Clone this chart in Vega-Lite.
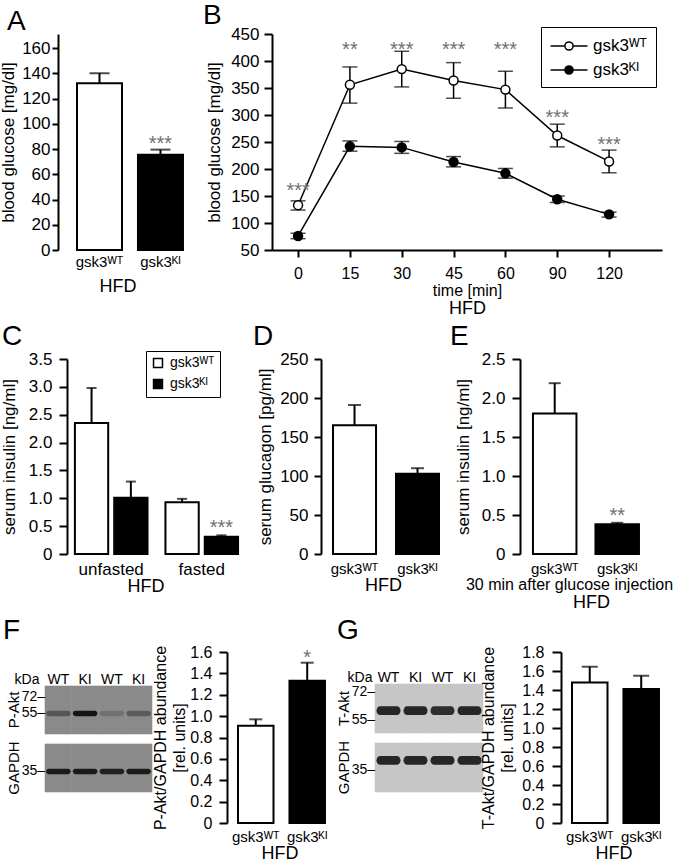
{
  "$schema": "https://vega.github.io/schema/vega-lite/v6.json",
  "padding": {"left": -1, "top": 2, "right": 0, "bottom": 0},
  "spacing": 6,
  "resolve": {"scale": {"fill": "independent", "opacity": "independent"}, "legend": {"fill": "independent", "opacity": "independent"}},
  "config": {
    "font": "Liberation Sans",
    "view": {"stroke": null},
    "axis": {"labelFont": "Liberation Sans", "titleFont": "Liberation Sans", "labelFontSize": 17, "titleFontSize": 17, "titleFontWeight": "normal", "labelColor": "black", "titleColor": "black", "domainColor": "black", "tickColor": "black", "domainWidth": 2, "tickWidth": 2, "grid": false, "labelFlush": false, "labelOverlap": false},
    "title": {"fontSize": 28, "fontWeight": "normal", "anchor": "start", "frame": "group", "baseline": "alphabetic", "color": "black", "font": "Liberation Sans"},
    "legend": {"labelFont": "Liberation Sans", "labelFontSize": 17, "labelColor": "black", "strokeColor": "black"},
    "text": {"font": "Liberation Sans"}
  },
  "vconcat": [
    {
      "resolve": {"scale": {"fill": "independent"}, "legend": {"fill": "independent"}},
      "hconcat": [
        {
          "title": {"text": "A", "dx": -38, "offset": -2},
          "width": 145, "height": 216,
          "data": {"values": [
            {"genotype": "gsk3ᵂᵀ", "mean": 132, "upper": 140, "sig": ""},
            {"genotype": "gsk3ᴷᴵ", "mean": 75.5, "upper": 79.5, "sig": "***"}
          ]},
          "resolve": {"axis": {"y": "independent"}},
          "encoding": {
            "x": {"field": "genotype", "type": "nominal", "sort": null,
              "scale": {"paddingInner": 0.262, "paddingOuter": 0.32, "align": 0.82},
              "axis": {"title": "HFD", "titleFontSize": 18, "labelAngle": 0, "labelFontSize": 15, "domain": false, "ticks": false, "labelPadding": 4, "titlePadding": 8}}
          },
          "layer": [
            {"mark": {"type": "bar", "stroke": "black", "strokeWidth": 2},
             "encoding": {
               "y": {"field": "mean", "type": "quantitative", "title": "blood glucose [mg/dl]", "scale": {"domain": [0, 171.1], "nice": false},
                 "axis": {"title": "blood glucose [mg/dl]", "values": [0, 20, 40, 60, 80, 100, 120, 140, 160], "labelOverlap": false, "offset": -13, "tickSize": 6, "labelPadding": 2, "titlePadding": 4}},
               "fill": {"field": "genotype", "type": "nominal", "scale": {"domain": ["gsk3ᵂᵀ", "gsk3ᴷᴵ"], "range": ["white", "black"]}, "legend": null}}},
            {"mark": {"type": "rule", "color": "black", "strokeWidth": 2},
             "encoding": {"y": {"field": "mean", "type": "quantitative", "axis": null}, "y2": {"field": "upper"}}},
            {"mark": {"type": "tick", "color": "black", "thickness": 2, "size": 20},
             "encoding": {"y": {"field": "upper", "type": "quantitative", "axis": null}}},
            {"mark": {"type": "text", "fontSize": 20, "color": "#707070", "baseline": "alphabetic", "dy": 0},
             "encoding": {"y": {"field": "upper", "type": "quantitative", "axis": null}, "text": {"field": "sig"}}}
          ]
        },
        {
          "title": {"text": "B", "dx": -69, "offset": -5},
          "width": 390, "height": 216,
          "data": {"values": [
            {"time": 0, "genotype": "gsk3ᵂᵀ", "mean": 133, "lo": 124, "hi": 141, "sig": "***", "starY": 170},
            {"time": 15, "genotype": "gsk3ᵂᵀ", "mean": 356, "lo": 322, "hi": 389, "sig": "**", "starY": 431},
            {"time": 30, "genotype": "gsk3ᵂᵀ", "mean": 385, "lo": 352, "hi": 418, "sig": "***", "starY": 431},
            {"time": 45, "genotype": "gsk3ᵂᵀ", "mean": 364, "lo": 331, "hi": 397, "sig": "***", "starY": 431},
            {"time": 60, "genotype": "gsk3ᵂᵀ", "mean": 347, "lo": 313, "hi": 381, "sig": "***", "starY": 431},
            {"time": 90, "genotype": "gsk3ᵂᵀ", "mean": 262, "lo": 241, "hi": 283, "sig": "***", "starY": 305},
            {"time": 120, "genotype": "gsk3ᵂᵀ", "mean": 214, "lo": 193, "hi": 235, "sig": "***", "starY": 255},
            {"time": 0, "genotype": "gsk3ᴷᴵ", "mean": 76, "lo": 71, "hi": 81},
            {"time": 15, "genotype": "gsk3ᴷᴵ", "mean": 242, "lo": 233, "hi": 252},
            {"time": 30, "genotype": "gsk3ᴷᴵ", "mean": 240, "lo": 229, "hi": 251},
            {"time": 45, "genotype": "gsk3ᴷᴵ", "mean": 213, "lo": 204, "hi": 223},
            {"time": 60, "genotype": "gsk3ᴷᴵ", "mean": 192, "lo": 183, "hi": 201},
            {"time": 90, "genotype": "gsk3ᴷᴵ", "mean": 144, "lo": 138, "hi": 150},
            {"time": 120, "genotype": "gsk3ᴷᴵ", "mean": 116, "lo": 111, "hi": 120}
          ]},
          "resolve": {"axis": {"x": "independent", "y": "independent"}},
          "layer": [
            {"mark": {"type": "line", "color": "black", "strokeWidth": 1.5},
             "encoding": {
               "x": {"field": "time", "type": "ordinal", "scale": {"type": "point", "padding": 0.762, "align": 0.33},
                 "axis": {"title": "time [min]", "labelAngle": 0, "labelFontSize": 16, "titleFontSize": 16, "tickSize": 7, "labelPadding": 8, "titlePadding": 1}},
               "y": {"field": "mean", "type": "quantitative", "title": "blood glucose [mg/dl]", "scale": {"domain": [50, 450], "nice": false},
                 "axis": {"title": "blood glucose [mg/dl]", "values": [50, 100, 150, 200, 250, 300, 350, 400, 450], "labelOverlap": false, "tickSize": 8, "labelPadding": 5, "titlePadding": 7}},
               "detail": {"field": "genotype"}}},
            {"mark": {"type": "rule", "color": "black", "strokeWidth": 1.5},
             "encoding": {"x": {"field": "time", "type": "ordinal", "axis": null}, "y": {"field": "lo", "type": "quantitative", "axis": null}, "y2": {"field": "hi"}}},
            {"mark": {"type": "tick", "color": "black", "thickness": 1.5, "size": 15},
             "encoding": {"x": {"field": "time", "type": "ordinal", "axis": null}, "y": {"field": "lo", "type": "quantitative", "axis": null}}},
            {"mark": {"type": "tick", "color": "black", "thickness": 1.5, "size": 15},
             "encoding": {"x": {"field": "time", "type": "ordinal", "axis": null}, "y": {"field": "hi", "type": "quantitative", "axis": null}}},
            {"mark": {"type": "point", "filled": true, "size": 80, "stroke": "black", "strokeWidth": 1.5, "opacity": 1},
             "encoding": {
               "x": {"field": "time", "type": "ordinal", "axis": null},
               "y": {"field": "mean", "type": "quantitative", "axis": null},
               "fill": {"field": "genotype", "type": "nominal", "scale": {"domain": ["gsk3ᵂᵀ", "gsk3ᴷᴵ"], "range": ["white", "black"]},
                 "legend": {"title": null, "orient": "none", "legendX": 269, "legendY": -7, "symbolType": "M-2,0L-0.44,0M0.44,0L2,0M0.44,0A0.44,0.44,0,1,1,-0.44,0A0.44,0.44,0,1,1,0.44,0Z", "symbolSize": 342, "symbolOffset": 9, "symbolStrokeColor": "black", "symbolStrokeWidth": 1.5, "symbolOpacity": 1, "labelFontSize": 17, "strokeColor": "black", "padding": 9, "rowPadding": 6, "labelOffset": 14, "cornerRadius": 0}}}},
            {"transform": [{"filter": "datum.starY != null"}],
             "mark": {"type": "text", "fontSize": 20, "color": "#707070", "baseline": "alphabetic", "dy": 12},
             "encoding": {
               "x": {"field": "time", "type": "ordinal", "axis": {"orient": "bottom", "title": "HFD", "titleFontSize": 18, "labels": false, "ticks": false, "domain": false, "titlePadding": 49}},
               "y": {"field": "starY", "type": "quantitative", "axis": null},
               "text": {"field": "sig"}}}
          ]
        }
      ],
      "spacing": 82, "bounds": "flush"
    },
    {
      "resolve": {"scale": {"fill": "independent"}, "legend": {"fill": "independent"}},
      "hconcat": [
        {
          "title": {"text": "C", "dx": -43, "offset": -1},
          "width": 201, "height": 195,
          "data": {"values": [
            {"condition": "unfasted", "genotype": "gsk3ᵂᵀ", "mean": 2.35, "upper": 2.98, "sig": ""},
            {"condition": "unfasted", "genotype": "gsk3ᴷᴵ", "mean": 1.01, "upper": 1.30, "sig": ""},
            {"condition": "fasted", "genotype": "gsk3ᵂᵀ", "mean": 0.93, "upper": 0.99, "sig": ""},
            {"condition": "fasted", "genotype": "gsk3ᴷᴵ", "mean": 0.31, "upper": 0.335, "sig": "***"}
          ]},
          "resolve": {"axis": {"y": "independent"}},
          "encoding": {
            "x": {"field": "condition", "type": "nominal", "sort": ["unfasted", "fasted"],
              "scale": {"paddingInner": 0.198, "paddingOuter": 0.209, "align": 0.79},
              "axis": {"title": "HFD", "titleFontSize": 18, "labelAngle": 0, "domain": false, "ticks": false, "labelPadding": 7, "titlePadding": 0}},
            "xOffset": {"field": "genotype", "type": "nominal", "sort": ["gsk3ᵂᵀ", "gsk3ᴷᴵ"], "scale": {"paddingInner": 0.153, "paddingOuter": 0}}
          },
          "layer": [
            {"mark": {"type": "bar", "stroke": "black", "strokeWidth": 2},
             "encoding": {
               "y": {"field": "mean", "type": "quantitative", "title": "serum insulin [ng/ml]", "scale": {"domain": [0, 3.5], "nice": false},
                 "axis": {"title": "serum insulin [ng/ml]", "values": [0, 0.5, 1, 1.5, 2, 2.5, 3, 3.5], "labelOverlap": false, "labelExpr": "datum.value == 0 ? '0' : format(datum.value, '.1f')", "offset": -22, "tickSize": 8, "labelPadding": 7, "titlePadding": 10}},
               "fill": {"field": "genotype", "type": "nominal", "scale": {"domain": ["gsk3ᵂᵀ", "gsk3ᴷᴵ"], "range": ["white", "black"]},
                 "legend": {"title": null, "orient": "none", "legendX": 101, "legendY": -8, "symbolType": "square", "symbolSize": 80, "symbolStrokeColor": "black", "symbolStrokeWidth": 1.5, "labelFontSize": 14, "strokeColor": "black", "padding": 5, "rowPadding": 5, "labelOffset": 5, "cornerRadius": 0}}}},
            {"mark": {"type": "rule", "color": "black", "strokeWidth": 2},
             "encoding": {"y": {"field": "mean", "type": "quantitative", "axis": null}, "y2": {"field": "upper"}}},
            {"mark": {"type": "tick", "color": "black", "thickness": 2, "size": 10},
             "encoding": {"y": {"field": "upper", "type": "quantitative", "axis": null}}},
            {"mark": {"type": "text", "fontSize": 20, "color": "#707070", "baseline": "alphabetic", "dy": -1},
             "encoding": {"y": {"field": "upper", "type": "quantitative", "axis": null}, "text": {"field": "sig"}}}
          ]
        },
        {
          "title": {"text": "D", "dx": -68, "offset": -1},
          "width": 124, "height": 195,
          "data": {"values": [
            {"genotype": "gsk3ᵂᵀ", "mean": 165, "upper": 191},
            {"genotype": "gsk3ᴷᴵ", "mean": 103, "upper": 110}
          ]},
          "resolve": {"axis": {"y": "independent"}},
          "encoding": {
            "x": {"field": "genotype", "type": "nominal", "sort": null,
              "scale": {"paddingInner": 0.317, "paddingOuter": 0.143, "align": 0.667},
              "axis": {"title": "HFD", "titleFontSize": 18, "labelAngle": 0, "labelFontSize": 15, "domain": false, "ticks": false, "labelPadding": 7, "titlePadding": 0}}
          },
          "layer": [
            {"mark": {"type": "bar", "stroke": "black", "strokeWidth": 2},
             "encoding": {
               "y": {"field": "mean", "type": "quantitative", "title": "serum glucagon [pg/ml]", "scale": {"domain": [0, 250], "nice": false},
                 "axis": {"title": "serum glucagon [pg/ml]", "values": [0, 50, 100, 150, 200, 250], "labelOverlap": false, "tickSize": 7, "labelPadding": 6, "titlePadding": 5}},
               "fill": {"field": "genotype", "type": "nominal", "scale": {"domain": ["gsk3ᵂᵀ", "gsk3ᴷᴵ"], "range": ["white", "black"]}, "legend": null}}},
            {"mark": {"type": "rule", "color": "black", "strokeWidth": 2},
             "encoding": {"y": {"field": "mean", "type": "quantitative", "axis": null}, "y2": {"field": "upper"}}},
            {"mark": {"type": "tick", "color": "black", "thickness": 2, "size": 13},
             "encoding": {"y": {"field": "upper", "type": "quantitative", "axis": null}}}
          ]
        },
        {
          "title": {"text": "E", "dx": -70, "offset": -1},
          "width": 124, "height": 195,
          "data": {"values": [
            {"genotype": "gsk3ᵂᵀ", "mean": 1.80, "upper": 2.19, "sig": ""},
            {"genotype": "gsk3ᴷᴵ", "mean": 0.38, "upper": 0.40, "sig": "**"}
          ]},
          "resolve": {"axis": {"x": "independent", "y": "independent"}},
          "layer": [
            {"mark": {"type": "bar", "stroke": "black", "strokeWidth": 2},
             "encoding": {
               "x": {"field": "genotype", "type": "nominal", "sort": null,
                 "scale": {"paddingInner": 0.304, "paddingOuter": 0.144, "align": 0.72},
                 "axis": {"title": "30 min after glucose injection", "titleFontSize": 16, "titleX": 49, "labelAngle": 0, "labelFontSize": 15, "domain": false, "ticks": false, "labelPadding": 7, "titlePadding": 0}},
               "y": {"field": "mean", "type": "quantitative", "title": "serum insulin [ng/ml]", "scale": {"domain": [0, 2.5], "nice": false},
                 "axis": {"title": "serum insulin [ng/ml]", "values": [0, 0.5, 1, 1.5, 2, 2.5], "labelOverlap": false, "labelExpr": "datum.value == 0 ? '0' : format(datum.value, '.1f')", "tickSize": 8, "labelPadding": 7, "titlePadding": 9}},
               "fill": {"field": "genotype", "type": "nominal", "scale": {"domain": ["gsk3ᵂᵀ", "gsk3ᴷᴵ"], "range": ["white", "black"]}, "legend": null}}},
            {"mark": {"type": "rule", "color": "black", "strokeWidth": 2},
             "encoding": {"x": {"field": "genotype", "type": "nominal", "sort": null, "axis": null}, "y": {"field": "mean", "type": "quantitative", "axis": null}, "y2": {"field": "upper"}}},
            {"mark": {"type": "tick", "color": "black", "thickness": 2, "size": 12},
             "encoding": {"x": {"field": "genotype", "type": "nominal", "sort": null, "axis": null}, "y": {"field": "upper", "type": "quantitative", "axis": null}}},
            {"mark": {"type": "text", "fontSize": 20, "color": "#707070", "baseline": "alphabetic", "dy": -1},
             "encoding": {
               "x": {"field": "genotype", "type": "nominal", "sort": null, "axis": {"orient": "bottom", "title": "HFD", "titleFontSize": 18, "titleX": 71, "labels": false, "ticks": false, "domain": false, "titlePadding": 39}},
               "y": {"field": "upper", "type": "quantitative", "axis": null},
               "text": {"field": "sig"}}}
          ]
        }
      ],
      "spacing": 75, "bounds": "flush"
    },
    {
      "resolve": {"scale": {"fill": "independent", "opacity": "independent"}, "legend": {"fill": "independent", "opacity": "independent"}},
      "hconcat": [
        {
          "title": {"text": "F", "dx": -42, "offset": 7},
          "width": 139, "height": 171,
          "resolve": {"scale": {"yOffset": "independent"}},
          "encoding": {
            "x": {"field": "lane", "type": "ordinal", "title": "kDa", "scale": {"type": "band", "paddingInner": 0, "paddingOuter": 0.598, "align": 0},
              "axis": {"orient": "top", "offset": -34, "domain": false, "ticks": false, "labelPadding": 0, "labelAngle": 0, "labelFontSize": 14, "labelExpr": "datum.value % 2 == 1 ? 'WT' : 'KI'", "title": "kDa", "titleX": -6, "titleY": -3, "titleAlign": "right", "titleBaseline": "alphabetic", "titleFontSize": 14}},
            "y": {"field": "blot", "type": "nominal", "title": null, "sort": ["P-Akt", "GAPDH"], "scale": {"type": "band", "paddingInner": 0.172, "paddingOuter": 0.56, "align": 0.523},
              "axis": {"domain": false, "ticks": false, "labelAngle": -90, "labelAlign": "center", "labelBaseline": "bottom", "labelPadding": 24, "labelFontSize": 15, "title": null}}
          },
          "layer": [
            {"data": {"values": [
               {"lane": 1, "blot": "P-Akt"}, {"lane": 2, "blot": "P-Akt"}, {"lane": 3, "blot": "P-Akt"}, {"lane": 4, "blot": "P-Akt"},
               {"lane": 1, "blot": "GAPDH"}, {"lane": 2, "blot": "GAPDH"}, {"lane": 3, "blot": "GAPDH"}, {"lane": 4, "blot": "GAPDH"}]},
             "mark": {"type": "rect", "color": "#8a8a8a", "stroke": "#8a8a8a", "strokeWidth": 0.6}},
            {"data": {"values": [
               {"lane": 1, "blot": "P-Akt", "level": "r2", "intensity": 0.45},
               {"lane": 2, "blot": "P-Akt", "level": "r2", "intensity": 1.0},
               {"lane": 3, "blot": "P-Akt", "level": "r2", "intensity": 0.2},
               {"lane": 4, "blot": "P-Akt", "level": "r2", "intensity": 0.4},
               {"lane": 1, "blot": "GAPDH", "level": "r2", "intensity": 0.95},
               {"lane": 2, "blot": "GAPDH", "level": "r2", "intensity": 0.95},
               {"lane": 3, "blot": "GAPDH", "level": "r2", "intensity": 0.9},
               {"lane": 4, "blot": "GAPDH", "level": "r2", "intensity": 0.95}]},
             "mark": {"type": "point", "shape": "M-0.8,-0.22L0.8,-0.22A0.22,0.22,0,0,1,0.8,0.22L-0.8,0.22A0.22,0.22,0,0,1,-0.8,-0.22Z", "filled": true, "color": "#151515", "size": 576, "strokeWidth": 0},
             "encoding": {
               "yOffset": {"field": "level", "type": "nominal", "scale": {"type": "band", "domain": ["r1", "r2"], "paddingInner": 0, "paddingOuter": 0.4545, "align": 0.183}},
               "opacity": {"field": "intensity", "type": "quantitative", "scale": {"domain": [0, 1], "range": [0, 1]}, "legend": null}}},
            {"data": {"values": [
               {"lane": 1, "blot": "P-Akt", "level": "r1", "label": "72–"},
               {"lane": 1, "blot": "P-Akt", "level": "r2", "label": "55–"},
               {"lane": 1, "blot": "GAPDH", "level": "r2", "label": "35–"}]},
             "mark": {"type": "text", "align": "right", "baseline": "middle", "dx": 0, "fontSize": 14},
             "encoding": {
               "x": {"field": "lane", "type": "ordinal", "title": "kDa", "bandPosition": 0},
               "yOffset": {"field": "level", "type": "nominal", "scale": {"type": "band", "domain": ["r1", "r2"], "paddingInner": 0, "paddingOuter": 0.4545, "align": 0.183}},
               "text": {"field": "label"}}}
          ]
        },
        {
          "width": 105, "height": 171,
          "data": {"values": [
            {"genotype": "gsk3ᵂᵀ", "mean": 0.91, "upper": 0.97, "sig": ""},
            {"genotype": "gsk3ᴷᴵ", "mean": 1.33, "upper": 1.50, "sig": "*"}
          ]},
          "resolve": {"axis": {"y": "independent"}},
          "encoding": {
            "x": {"field": "genotype", "type": "nominal", "sort": null,
              "scale": {"paddingInner": 0.31, "paddingOuter": 0.175, "align": 0.61},
              "axis": {"title": "HFD", "titleFontSize": 18, "labelAngle": 0, "labelFontSize": 15, "domain": false, "ticks": false, "labelPadding": 6, "titlePadding": 0}}
          },
          "layer": [
            {"mark": {"type": "bar", "stroke": "black", "strokeWidth": 2},
             "encoding": {
               "y": {"field": "mean", "type": "quantitative", "title": ["P-Akt/GAPDH abundance", "[rel. units]"], "scale": {"domain": [0, 1.6], "nice": false},
                 "axis": {"title": ["P-Akt/GAPDH abundance", "[rel. units]"], "titleLineHeight": 19, "values": [0, 0.2, 0.4, 0.6, 0.8, 1, 1.2, 1.4, 1.6], "labelOverlap": false, "labelExpr": "datum.value == 0 ? '0' : format(datum.value, '.1f')", "tickSize": 8, "labelPadding": 7, "titlePadding": 2, "labelFontSize": 16, "titleFontSize": 16}},
               "fill": {"field": "genotype", "type": "nominal", "scale": {"domain": ["gsk3ᵂᵀ", "gsk3ᴷᴵ"], "range": ["white", "black"]}, "legend": null}}},
            {"mark": {"type": "rule", "color": "black", "strokeWidth": 2},
             "encoding": {"y": {"field": "mean", "type": "quantitative", "axis": null}, "y2": {"field": "upper"}}},
            {"mark": {"type": "tick", "color": "black", "thickness": 2, "size": 13},
             "encoding": {"y": {"field": "upper", "type": "quantitative", "axis": null}}},
            {"mark": {"type": "text", "fontSize": 20, "color": "#707070", "baseline": "alphabetic", "dy": 1},
             "encoding": {"y": {"field": "upper", "type": "quantitative", "axis": null}, "text": {"field": "sig"}}}
          ]
        },
        {
          "title": {"text": "G", "dx": -38, "offset": 7},
          "width": 143, "height": 171,
          "resolve": {"scale": {"yOffset": "independent"}},
          "encoding": {
            "x": {"field": "lane", "type": "ordinal", "title": "kDa", "scale": {"type": "band", "paddingInner": 0, "paddingOuter": 0.648, "align": 0},
              "axis": {"orient": "top", "offset": -32, "domain": false, "ticks": false, "labelPadding": 0, "labelAngle": 0, "labelFontSize": 14, "labelExpr": "datum.value % 2 == 1 ? 'WT' : 'KI'", "title": "kDa", "titleX": -3, "titleY": -3, "titleAlign": "right", "titleBaseline": "alphabetic", "titleFontSize": 14}},
            "y": {"field": "blot", "type": "nominal", "title": null, "sort": ["T-Akt", "GAPDH"], "scale": {"type": "band", "paddingInner": 0.169, "paddingOuter": 0.534, "align": 0.508},
              "axis": {"domain": false, "ticks": false, "labelAngle": -90, "labelAlign": "center", "labelBaseline": "bottom", "labelPadding": 24, "labelFontSize": 15, "title": null}}
          },
          "layer": [
            {"data": {"values": [
               {"lane": 1, "blot": "T-Akt"}, {"lane": 2, "blot": "T-Akt"}, {"lane": 3, "blot": "T-Akt"}, {"lane": 4, "blot": "T-Akt"},
               {"lane": 1, "blot": "GAPDH"}, {"lane": 2, "blot": "GAPDH"}, {"lane": 3, "blot": "GAPDH"}, {"lane": 4, "blot": "GAPDH"}]},
             "mark": {"type": "rect", "color": "#c6c6c6", "stroke": "#c6c6c6", "strokeWidth": 0.6}},
            {"data": {"values": [
               {"lane": 1, "blot": "T-Akt", "level": "r3", "intensity": 1.0},
               {"lane": 2, "blot": "T-Akt", "level": "r3", "intensity": 1.0},
               {"lane": 3, "blot": "T-Akt", "level": "r3", "intensity": 0.95},
               {"lane": 4, "blot": "T-Akt", "level": "r3", "intensity": 1.0},
               {"lane": 1, "blot": "GAPDH", "level": "r2", "intensity": 1.0},
               {"lane": 2, "blot": "GAPDH", "level": "r2", "intensity": 1.0},
               {"lane": 3, "blot": "GAPDH", "level": "r2", "intensity": 1.0},
               {"lane": 4, "blot": "GAPDH", "level": "r2", "intensity": 1.0}]},
             "mark": {"type": "point", "shape": "M-0.7,-0.36L0.7,-0.36A0.3,0.36,0,0,1,0.7,0.36L-0.7,0.36A0.3,0.36,0,0,1,-0.7,-0.36Z", "filled": true, "color": "#262626", "size": 576, "strokeWidth": 0},
             "encoding": {
               "yOffset": {"field": "level", "type": "nominal", "scale": {"type": "band", "domain": ["r1", "r2", "r3", "r4"], "paddingInner": 0, "paddingOuter": 0.625, "align": 0.286}},
               "opacity": {"field": "intensity", "type": "quantitative", "scale": {"domain": [0, 1], "range": [0, 1]}, "legend": null}}},
            {"data": {"values": [
               {"lane": 1, "blot": "T-Akt", "level": "r1", "label": "72–"},
               {"lane": 1, "blot": "T-Akt", "level": "r4", "label": "55–"},
               {"lane": 1, "blot": "GAPDH", "level": "r3", "label": "35–"}]},
             "mark": {"type": "text", "align": "right", "baseline": "middle", "dx": 0, "fontSize": 14},
             "encoding": {
               "x": {"field": "lane", "type": "ordinal", "title": "kDa", "bandPosition": 0},
               "yOffset": {"field": "level", "type": "nominal", "scale": {"type": "band", "domain": ["r1", "r2", "r3", "r4"], "paddingInner": 0, "paddingOuter": 0.625, "align": 0.286}},
               "text": {"field": "label"}}}
          ]
        },
        {
          "width": 105, "height": 171,
          "data": {"values": [
            {"genotype": "gsk3ᵂᵀ", "mean": 1.48, "upper": 1.645},
            {"genotype": "gsk3ᴷᴵ", "mean": 1.41, "upper": 1.55}
          ]},
          "resolve": {"axis": {"y": "independent"}},
          "encoding": {
            "x": {"field": "genotype", "type": "nominal", "sort": null,
              "scale": {"paddingInner": 0.31, "paddingOuter": 0.175, "align": 0.61},
              "axis": {"title": "HFD", "titleFontSize": 18, "labelAngle": 0, "labelFontSize": 15, "domain": false, "ticks": false, "labelPadding": 6, "titlePadding": 0}}
          },
          "layer": [
            {"mark": {"type": "bar", "stroke": "black", "strokeWidth": 2},
             "encoding": {
               "y": {"field": "mean", "type": "quantitative", "title": ["T-Akt/GAPDH abundance", "[rel. units]"], "scale": {"domain": [0, 1.8], "nice": false},
                 "axis": {"title": ["T-Akt/GAPDH abundance", "[rel. units]"], "titleLineHeight": 19, "values": [0, 0.2, 0.4, 0.6, 0.8, 1, 1.2, 1.4, 1.6, 1.8], "labelOverlap": false, "labelExpr": "datum.value == 0 ? '0' : format(datum.value, '.1f')", "tickSize": 9, "labelPadding": 8, "titlePadding": 6, "labelFontSize": 16, "titleFontSize": 16}},
               "fill": {"field": "genotype", "type": "nominal", "scale": {"domain": ["gsk3ᵂᵀ", "gsk3ᴷᴵ"], "range": ["white", "black"]}, "legend": null}}},
            {"mark": {"type": "rule", "color": "black", "strokeWidth": 2},
             "encoding": {"y": {"field": "mean", "type": "quantitative", "axis": null}, "y2": {"field": "upper"}}},
            {"mark": {"type": "tick", "color": "black", "thickness": 2, "size": 16},
             "encoding": {"y": {"field": "upper", "type": "quantitative", "axis": null}}}
          ]
        }
      ],
      "spacing": 43, "bounds": "flush"
    }
  ]
}
